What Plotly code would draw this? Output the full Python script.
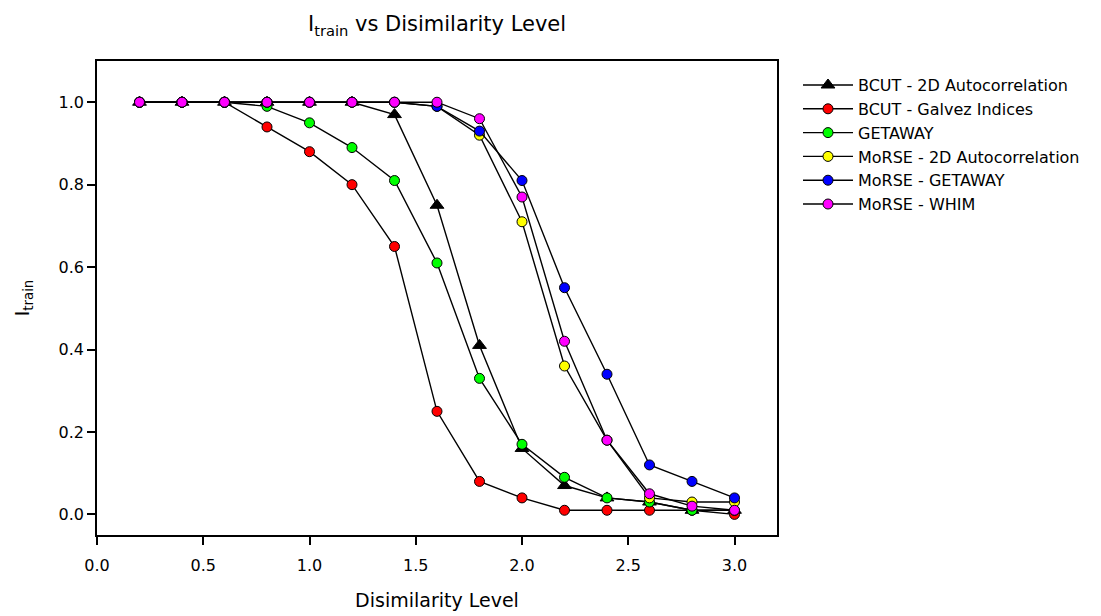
import plotly.graph_objects as go

# Disimilarity levels (x) and I_train values for each descriptor combination
levels = [0.2, 0.4, 0.6, 0.8, 1.0, 1.2, 1.4, 1.6, 1.8, 2.0, 2.2, 2.4, 2.6, 2.8, 3.0]

bcut_2d_autocorr = [1.0, 1.0, 1.0, 1.0, 1.0, 1.0, 0.97, 0.75, 0.41, 0.16, 0.07, 0.04, 0.03, 0.01, 0.01]
bcut_galvez = [1.0, 1.0, 1.0, 0.94, 0.88, 0.80, 0.65, 0.25, 0.08, 0.04, 0.01, 0.01, 0.01, 0.01, 0.00]
getaway = [1.0, 1.0, 1.0, 0.99, 0.95, 0.89, 0.81, 0.61, 0.33, 0.17, 0.09, 0.04, 0.03, 0.01, 0.01]
morse_2d_autocorr = [1.0, 1.0, 1.0, 1.0, 1.0, 1.0, 1.0, 0.99, 0.92, 0.71, 0.36, 0.18, 0.04, 0.03, 0.03]
morse_getaway = [1.0, 1.0, 1.0, 1.0, 1.0, 1.0, 1.0, 0.99, 0.93, 0.81, 0.55, 0.34, 0.12, 0.08, 0.04]
morse_whim = [1.0, 1.0, 1.0, 1.0, 1.0, 1.0, 1.0, 1.0, 0.96, 0.77, 0.42, 0.18, 0.05, 0.02, 0.01]

series_names = [
    "BCUT - 2D Autocorrelation",
    "BCUT - Galvez Indices",
    "GETAWAY",
    "MoRSE - 2D Autocorrelation",
    "MoRSE - GETAWAY",
    "MoRSE - WHIM",
]
series_values = [bcut_2d_autocorr, bcut_galvez, getaway, morse_2d_autocorr, morse_getaway, morse_whim]
series_colors = ["#000000", "#FF0000", "#00FF00", "#FFFF00", "#0000FF", "#FF00FF"]
series_symbols = ["triangle-up", "circle", "circle", "circle", "circle", "circle"]

x_ticks = [0.0, 0.5, 1.0, 1.5, 2.0, 2.5, 3.0]
y_ticks = [0.0, 0.2, 0.4, 0.6, 0.8, 1.0]

FONT = "DejaVu Sans"

fig = go.Figure()
for name, vals, color, sym in zip(series_names, series_values, series_colors, series_symbols):
    fig.add_trace(go.Scatter(
        x=levels, y=vals, name=name, mode="lines+markers",
        line=dict(color="black", width=1.4),
        marker=dict(symbol=sym, color=color, size=12 if sym == "triangle-up" else 10,
                    line=dict(color="black", width=1)),
    ))

axis_common = dict(
    showline=True, linecolor="black", linewidth=1.6, mirror=True,
    ticks="outside", ticklen=8, tickwidth=1.5, tickcolor="black",
    showgrid=False, zeroline=False, automargin=False,
    tickfont=dict(family=FONT, size=16, color="black"),
)

fig.update_layout(
    width=1101, height=616,
    paper_bgcolor="white", plot_bgcolor="white",
    margin=dict(l=97, r=324, t=61, b=81),
    title=dict(
        text="I<sub>train</sub> vs Disimilarity Level",
        font=dict(family=FONT, size=21, color="black"),
        x=437 / 1101, xanchor="center", xref="container",
        y=1 - 24 / 616, yanchor="middle", yref="container",
    ),
    xaxis=dict(
        range=[0, 3.2], tickvals=x_ticks, tickformat=".1f", ticklabelstandoff=7,
        title=dict(text="Disimilarity Level", font=dict(family=FONT, size=19, color="black"), standoff=20),
        **axis_common,
    ),
    yaxis=dict(
        range=[-0.05, 1.1], tickvals=y_ticks, tickformat=".1f",
        title=dict(text="I<sub>train</sub>", font=dict(family=FONT, size=19, color="black"), standoff=24),
        **axis_common,
    ),
    legend=dict(
        x=(798 - 97) / 680, xanchor="left", y=0.985, yanchor="top",
        font=dict(family=FONT, size=16, color="black"),
        bgcolor="rgba(0,0,0,0)", borderwidth=0, itemwidth=50,
    ),
    showlegend=True,
)

fig.write_html("out.html")
